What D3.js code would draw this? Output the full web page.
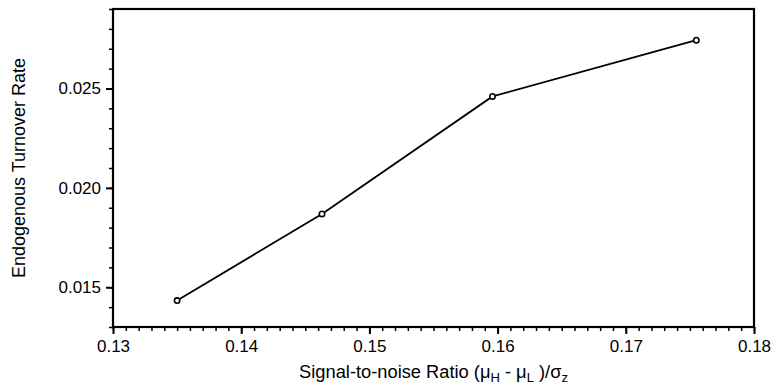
<!DOCTYPE html>
<html><head><meta charset="utf-8">
<script src="https://cdn.jsdelivr.net/npm/d3@7"></script>
<style>body{margin:0;background:#fff}svg{display:block}text{font-family:"Liberation Sans",Arial,Helvetica,sans-serif;fill:#000}</style>
</head><body><svg id="c" width="774" height="388"></svg>
<script>
const snr = [0.1350, 0.1463, 0.1596, 0.1755];
const turnover = [0.01433, 0.01869, 0.02460, 0.02743];
const xTicks = [0.13, 0.14, 0.15, 0.16, 0.17, 0.18];
const yTicks = [0.015, 0.020, 0.025];
const xDomain = [0.13, 0.18];
const yDomain = [0.013, 0.029];

const svg = d3.select("#c");
const L = 113, R = 754, T = 9, B = 327;
const x = d3.scaleLinear().domain(xDomain).range([L, R]);
const y = d3.scaleLinear().domain(yDomain).range([B, T]);

const fs = 17, tfs = 18.3;
const xMinor = d3.range(0, 51).map(i => 0.13 + i * 0.001);
const yMinor = d3.range(0, 17).map(i => 0.013 + i * 0.001);

const xAxis = svg.append("g").attr("transform", `translate(0,${B})`)
  .call(d3.axisBottom(x).tickValues(xMinor).tickSize(4).tickFormat(""));
xAxis.select(".domain").remove();
xAxis.selectAll("line").attr("stroke", "#000").attr("stroke-width", 1.5);
const xMaj = svg.append("g").attr("transform", `translate(0,${B})`)
  .call(d3.axisBottom(x).tickValues(xTicks).tickSize(7).tickPadding(6).tickFormat(d3.format(".2f")));
xMaj.select(".domain").remove();
xMaj.selectAll("line").attr("stroke", "#000").attr("stroke-width", 2);
xMaj.selectAll("text").attr("font-size", fs).attr("font-family", null).attr("fill", "#000");

const yAxis = svg.append("g").attr("transform", `translate(${L},0)`)
  .call(d3.axisLeft(y).tickValues(yMinor).tickSize(4).tickFormat(""));
yAxis.select(".domain").remove();
yAxis.selectAll("line").attr("stroke", "#000").attr("stroke-width", 1.5);
const yMaj = svg.append("g").attr("transform", `translate(${L},0)`)
  .call(d3.axisLeft(y).tickValues(yTicks).tickSize(7).tickPadding(5).tickFormat(d3.format(".3f")));
yMaj.select(".domain").remove();
yMaj.selectAll("line").attr("stroke", "#000").attr("stroke-width", 2);
yMaj.selectAll("text").attr("font-size", fs).attr("font-family", null).attr("fill", "#000");

svg.append("rect").attr("x", L).attr("y", T).attr("width", R - L).attr("height", B - T)
  .attr("fill", "none").attr("stroke", "#000").attr("stroke-width", 2.2);

const pts = snr.map((v, i) => [v, turnover[i]]);
svg.append("path").datum(pts)
  .attr("d", d3.line().x(d => x(d[0])).y(d => y(d[1])))
  .attr("fill", "none").attr("stroke", "#000").attr("stroke-width", 1.8);
svg.selectAll("circle.pt").data(pts).enter().append("circle")
  .attr("cx", d => x(d[0])).attr("cy", d => y(d[1])).attr("r", 2.7)
  .attr("fill", "#fff").attr("stroke", "#000").attr("stroke-width", 1.6);

svg.append("text").attr("transform", `translate(25,${(T + B) / 2}) rotate(-90)`)
  .attr("text-anchor", "middle").attr("font-size", 18).text("Endogenous Turnover Rate");

const xt = svg.append("text").attr("x", (L + R) / 2).attr("y", 378)
  .attr("text-anchor", "middle").attr("font-size", tfs);
xt.append("tspan").text("Signal-to-noise Ratio (μ");
xt.append("tspan").attr("font-size", 13).attr("dy", 4).text("H");
xt.append("tspan").attr("dy", -4).text(" - μ");
xt.append("tspan").attr("font-size", 13).attr("dy", 4).text("L");
xt.append("tspan").attr("dy", -4).text(" )/σ");
xt.append("tspan").attr("font-size", 13).attr("dy", 4).text("z");
</script></body></html>
